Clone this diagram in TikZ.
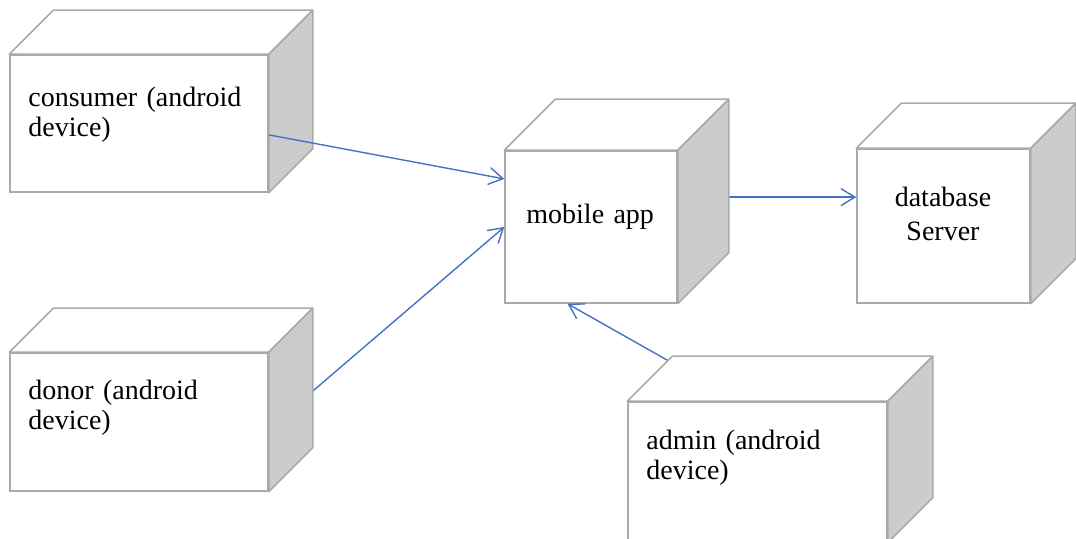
\documentclass[tikz,border=0pt]{standalone}
\usepackage{fontspec}
\setmainfont{Liberation Serif}
\usetikzlibrary{arrows.meta}
\definecolor{linkblue}{RGB}{68,114,196}
\definecolor{boxgray}{RGB}{170,170,170}
\definecolor{sidegray}{RGB}{204,204,204}

\begin{document}
\begin{tikzpicture}[x=0.5pt,y=-0.5pt,
    device/.style={draw=boxgray,fill=white,line width=0.75pt,inner sep=0pt},
    face/.style={draw=boxgray,fill=white,line width=0.75pt,line join=round},
    lbl/.style={font=\fontsize{14}{15}\selectfont,inner sep=0pt,anchor=base west,text width=120pt,align=left},
    link/.style={draw=linkblue,line width=0.7pt,-{Straight Barb[length=7pt,width=8.5pt]}}]
  \useasboundingbox (0,0) rectangle (1076,539);
  \clip (0,0) rectangle (1076,539);
  \node [device,minimum width=129pt,minimum height=68.5pt] (cons) at (139,123.5) {};
  \node [device,minimum width=129pt,minimum height=69pt] (donor) at (139,422) {};
  \node [device,minimum width=86pt,minimum height=76pt] (app) at (591,227) {};
  \node [device,minimum width=86.5pt,minimum height=77pt] (db) at (943.5,226) {};
  \node [device,minimum width=129.5pt,minimum height=70pt] (admin) at (757.5,472) {};
  % tails of these run under the faces
  \draw [link] (donor.-3) -- (app.west);
  \draw [link] (admin.104) -- (app.-107);
  \draw [link] (app.19) -- (app.19 -| db.west);
  \foreach \n/\d in {cons/44,donor/44,app/51,db/45,admin/45} {
    \draw [face] (\n.north west) -- ++(\d,-\d) -- ([shift={(\d,-\d)}]\n.north east) -- (\n.north east) -- cycle;
    \draw [face,fill=sidegray] (\n.north east) -- ([shift={(\d,-\d)}]\n.north east) -- ([shift={(\d,-\d)}]\n.south east) -- (\n.south east) -- cycle;
  }
  \draw [link] (cons.-5) -- (app.151);
  \node [lbl] (consL) at (28,107) {consumer (android\\device)};
  \node [lbl] (donorL) at (28,400) {donor (android\\device)};
  \node [lbl] (adminL) at (646,450) {admin (android\\device)};
  \node [lbl] (appL) at (526,224) {mobile app};
  \node [lbl,anchor=base,align=center,text width=80pt] (dbL) at (943,207) {database\\[2pt]Server};
\end{tikzpicture}
\end{document}
